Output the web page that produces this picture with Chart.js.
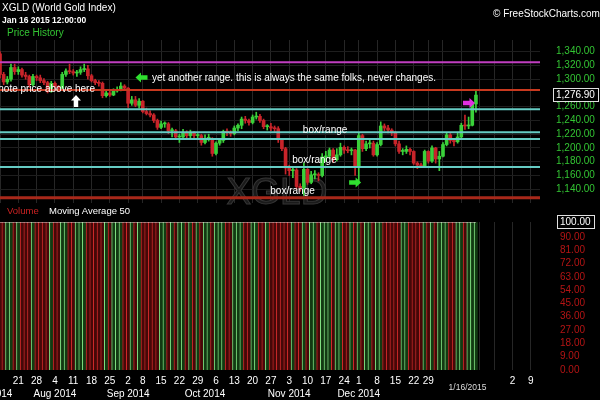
<!DOCTYPE html>
<html>
<head>
<meta charset="utf-8">
<script src="https://cdn.jsdelivr.net/npm/chart.js@4.4.0/dist/chart.umd.min.js"></script>
<style>
  html, body { margin: 0; padding: 0; background: #000; }
  #wrap { position: relative; width: 600px; height: 400px; overflow: hidden; background: #000;
          font-family: "Liberation Sans", Arial, sans-serif; }
  #price { position: absolute; left: 0; top: 0; }
  #volume { position: absolute; left: 0; top: 205px; }
  .lbl { position: absolute; white-space: nowrap; line-height: 1; }
</style>
</head>
<body>
<div id="wrap">
  <canvas id="price" width="600" height="205"></canvas>
  <canvas id="volume" width="600" height="195"></canvas>
  <div class="lbl" style="left:2px;top:3px;color:#fff;font-size:10px;">XGLD (World Gold Index)</div>
  <div class="lbl" style="left:2px;top:16px;color:#fff;font-size:8.5px;font-weight:bold;">Jan 16 2015 12:00:00</div>
  <div class="lbl" style="left:7px;top:28px;color:#33c433;font-size:10px;">Price History</div>
  <div class="lbl" style="left:493px;top:9px;color:#fff;font-size:10px;">&copy; FreeStockCharts.com</div>
  <div class="lbl" style="left:7px;top:206px;color:#cc2222;font-size:9.5px;">Volume</div>
  <div class="lbl" style="left:49px;top:206px;color:#fff;font-size:9.5px;">Moving Average 50</div>
</div>
<script>
// daily bars, Jul 14 2014 .. Jan 16 2015 (index = trading day)
const open = [
  1337,1307,1296,1300,1317,1311,1314,1306,1304,1292,
  1304,1302,1298,1295,1282,1294,1289,1287,1307,1312,
  1311,1309,1310,1314,1315,1305,1298,1295,1294,1276,
  1280,1277,1283,1284,1290,1287,1265,1270,1262,1268,
  1253,1250,1248,1240,1230,1235,1235,1225,1225,1216,
  1216,1222,1218,1222,1218,1218,1208,1214,1214,1192,
  1207,1211,1224,1223,1221,1229,1233,1242,1240,1237,
  1245,1246,1240,1231,1231,1229,1228,1212,1199,1171,
  1167,1168,1144,1142,1169,1150,1161,1161,1160,1187,
  1188,1197,1183,1190,1201,1197,1196,1197,1174,1218,
  1199,1206,1207,1190,1205,1232,1229,1226,1222,1206,
  1195,1195,1198,1195,1178,1175,1174,1195,1181,1200,
  1184,1188,1205,1219,1211,1209,1216,1233,1232,1233,1264
];
const high = [
  1340,1310,1304,1322,1322,1318,1316,1310,1306,1307,
  1306,1306,1301,1297,1297,1296,1291,1310,1315,1322,
  1314,1313,1318,1322,1320,1307,1300,1298,1296,1284,
  1283,1286,1289,1295,1292,1288,1275,1275,1272,1269,
  1258,1254,1250,1242,1239,1238,1237,1229,1227,1220,
  1227,1225,1226,1224,1221,1220,1219,1220,1215,1209,
  1214,1226,1228,1225,1232,1235,1245,1246,1242,1248,
  1252,1249,1242,1234,1236,1232,1231,1214,1201,1175,
  1172,1170,1148,1178,1170,1166,1167,1164,1192,1195,
  1200,1199,1199,1207,1203,1202,1200,1198,1222,1220,
  1210,1212,1210,1208,1238,1235,1233,1228,1224,1210,
  1199,1203,1200,1196,1180,1178,1197,1196,1203,1201,
  1195,1208,1222,1221,1214,1223,1236,1248,1245,1266,1283
];
const low = [
  1302,1292,1293,1297,1307,1307,1303,1300,1288,1290,
  1298,1295,1292,1280,1281,1285,1282,1286,1304,1308,
  1306,1304,1307,1311,1300,1296,1292,1290,1273,1274,
  1275,1276,1281,1283,1284,1259,1262,1260,1258,1251,
  1248,1245,1237,1227,1228,1230,1221,1216,1213,1208,
  1214,1215,1215,1214,1212,1204,1206,1210,1188,1190,
  1204,1208,1218,1217,1219,1225,1228,1236,1233,1235,
  1242,1237,1228,1226,1225,1224,1208,1196,1162,1160,
  1157,1140,1137,1131,1147,1148,1155,1152,1158,1180,
  1185,1179,1181,1188,1192,1193,1190,1160,1150,1195,
  1196,1200,1188,1188,1203,1225,1222,1218,1203,1192,
  1190,1192,1190,1176,1170,1172,1173,1178,1179,1178,
  1167,1187,1203,1207,1203,1207,1215,1227,1228,1232,1252
];
const close = [
  1307,1296,1300,1317,1311,1314,1306,1304,1292,1304,
  1302,1298,1295,1282,1294,1289,1287,1307,1312,1311,
  1309,1310,1314,1315,1305,1298,1295,1294,1276,1280,
  1277,1283,1284,1290,1287,1265,1270,1262,1268,1253,
  1250,1248,1240,1230,1235,1235,1225,1225,1216,1216,
  1222,1218,1222,1218,1218,1208,1214,1214,1192,1207,
  1211,1224,1223,1221,1229,1233,1242,1240,1237,1245,
  1246,1240,1231,1231,1229,1228,1212,1199,1171,1167,
  1168,1144,1142,1169,1150,1161,1161,1160,1187,1188,
  1197,1183,1190,1201,1197,1196,1197,1174,1218,1199,
  1206,1207,1190,1205,1232,1229,1226,1222,1206,1195,
  1195,1198,1195,1178,1175,1174,1195,1181,1200,1184,
  1188,1205,1219,1211,1209,1216,1233,1232,1233,1264,1276.9
];
const volume = [
  100,100,100,100,100,100,100,100,100,100,
  100,100,100,100,100,100,100,100,100,100,
  100,100,100,100,100,100,100,100,100,100,
  100,100,100,100,100,100,100,100,100,100,
  100,100,100,100,100,100,100,100,100,100,
  100,100,100,100,100,100,100,100,100,100,
  100,100,100,100,100,100,100,100,100,100,
  100,100,100,100,100,100,100,100,100,100,
  100,100,100,100,100,100,100,100,100,100,
  100,100,100,100,100,100,100,100,100,100,
  100,100,100,100,100,100,100,100,100,100,
  100,100,100,100,100,100,100,100,100,100,
  100,100,100,100,100,100,100,100,100,100,100
];

// horizontal range lines drawn on the chart
const levels = [1324.6, 1284.3, 1256.3, 1222.8, 1213, 1172.3, 1127.8];

// axis ticks (x = trading day index)
const weekIdx = [0, 5, 10, 15, 20, 25, 30, 35, 39, 44, 49, 54, 59, 64, 69, 74, 79, 84, 89, 94,
                 98, 103, 108, 113, 117, 121, 126, 131, 135, 140, 145];
const weekLabels = ['', '21', '28', '4', '11', '18', '25', '2', '8', '15', '22', '29', '6', '13', '20', '27',
                    '3', '10', '17', '24', '1', '8', '15', '22', '29', '', '', '', '', '2', '9'];
const monthIdx = [-1.8, 15, 35, 56, 79, 98];
const monthLabels = ['Jul 2014', 'Aug 2014', 'Sep 2014', 'Oct 2014', 'Nov 2014', 'Dec 2014'];
const priceTicks = [1140, 1160, 1180, 1200, 1220, 1240, 1260, 1300, 1320, 1340];
const volTicks = [0, 9, 18, 27, 36, 45, 54, 63, 72, 81, 90, 100];

// chart notes: [day index, price, text, align]
const notes = [
  [25.95, 1285.8, 'note price above here', 'right'],
  [41.5, 1301.7, 'yet another range. this is always the same folks, never changes.', 'left'],
  [88.8, 1226.1, 'box/range', 'center'],
  [85.9, 1181.5, 'box/range', 'center'],
  [79.9, 1137.4, 'box/range', 'center']
];
// arrows: [day index, price, direction, colour]
const arrows = [
  [38.65, 1302.5, 'left', '#2fe02f'],
  [20.76, 1268.3, 'up', '#ffffff'],
  [97, 1149.8, 'right', '#2fe02f'],
  [128.1, 1265.4, 'right', '#e02fe0']
];

const lastClose = close[close.length - 1];
const X_MAX = 147.5;
const GREEN = '#3ad13a';
const RED = '#c8242a';

Chart.defaults.font.family = '"Liberation Sans", Arial, sans-serif';
Chart.defaults.font.size = 10;

const levelColors = ['#c03ec0', '#c8391f', '#66ccc4', '#66ccc4', '#66ccc4', '#66ccc4', '#a8281a'];
const levelWidths = [2, 2, 2, 2, 2, 2, 3];

const up = close.map((c, i) => c >= open[i]);
const barColors = up.map(u => u ? GREEN : RED);

function fmtPrice(v) {
    return v.toLocaleString('en-US', { minimumFractionDigits: 2, maximumFractionDigits: 2 });
}
function weekTicks(scale) {
    scale.ticks = weekIdx.map(v => ({ value: v }));
}
function noSidePad(scale) {
    scale.paddingLeft = 0;
    scale.paddingRight = 0;
}
function fixRightAxis(scale) {
    // fixed width so both panels share the same plot area; no label overhang
    scale.width = 60;
    scale.paddingTop = 0;
    scale.paddingBottom = 0;
}

function drawArrow(ctx, x, y, dir, color) {
    const rot = { right: 0, down: Math.PI / 2, left: Math.PI, up: -Math.PI / 2 }[dir];
    ctx.save();
    ctx.translate(x, y);
    ctx.rotate(rot);
    ctx.beginPath();
    ctx.moveTo(-6, -2.2);
    ctx.lineTo(0.5, -2.2);
    ctx.lineTo(0.5, -5);
    ctx.lineTo(6, 0);
    ctx.lineTo(0.5, 5);
    ctx.lineTo(0.5, 2.2);
    ctx.lineTo(-6, 2.2);
    ctx.closePath();
    ctx.fillStyle = color;
    ctx.fill();
    ctx.restore();
}

function boxTick(chart, value, text) {
    const y = chart.scales.y;
    const ctx = chart.ctx;
    const py = Math.round(y.getPixelForValue(value));
    ctx.save();
    ctx.font = '10px "Liberation Sans"';
    const w = ctx.measureText(text).width;
    const x0 = Math.round(chart.chartArea.right + y.options.ticks.padding - 3);
    ctx.strokeStyle = '#e0e0e0';
    ctx.lineWidth = 1;
    ctx.strokeRect(x0 + 0.5, py - 6.5, Math.round(w + 6), 13);
    ctx.restore();
}

const pricePlugin = {
    id: 'priceNotes',
    beforeDatasetsDraw(chart) {
        // XGLD watermark
        const ctx = chart.ctx;
        ctx.save();
        ctx.font = '37px "Liberation Sans"';
        ctx.textAlign = 'center';
        ctx.textBaseline = 'alphabetic';
        ctx.fillStyle = '#1a1a1a';
        ctx.strokeStyle = '#363636';
        ctx.lineWidth = 1;
        ctx.fillText('XGLD', 277, 204);
        ctx.strokeText('XGLD', 277, 204);
        ctx.restore();
    },
    afterDatasetsDraw(chart) {
        const ctx = chart.ctx;
        const xs = chart.scales.x, ys = chart.scales.y;
        ctx.save();
        ctx.font = '10px "Liberation Sans"';
        ctx.fillStyle = '#ffffff';
        ctx.textBaseline = 'middle';
        notes.forEach(n => {
            ctx.textAlign = n[3];
            ctx.fillText(n[2], xs.getPixelForValue(n[0]), ys.getPixelForValue(n[1]));
        });
        ctx.restore();
        arrows.forEach(a => drawArrow(ctx, xs.getPixelForValue(a[0]), ys.getPixelForValue(a[1]), a[2], a[3]));
    },
    afterDraw(chart) {
        boxTick(chart, lastClose, fmtPrice(lastClose));
    }
};

const levelSets = levels.map((v, i) => ({
    type: 'line',
    data: [{ x: 0, y: v }, { x: X_MAX, y: v }],
    borderColor: levelColors[i],
    borderWidth: levelWidths[i],
    pointRadius: 0,
    order: 0
}));

new Chart(document.getElementById('price'), {
    type: 'bar',
    data: {
        datasets: levelSets.concat([
            {
                // high-low wick
                data: high.map((h, i) => ({ x: i, y: [low[i], h] })),
                backgroundColor: barColors,
                barThickness: 1,
                grouped: false,
                order: 2
            },
            {
                // open-close body
                data: open.map((o, i) => ({ x: i, y: [o, close[i]] })),
                backgroundColor: barColors,
                barThickness: 3,
                minBarLength: 1,
                grouped: false,
                order: 1
            }
        ])
    },
    options: {
        responsive: false,
        animation: false,
        layout: { padding: { top: 40, bottom: 2 } },
        plugins: { legend: { display: false }, tooltip: { enabled: false } },
        scales: {
            x: {
                type: 'linear', min: 0, max: X_MAX, offset: false,
                afterBuildTicks: weekTicks,
                afterFit: s => { noSidePad(s); s.height = 0; },
                ticks: { display: false },
                grid: { color: '#262626', drawTicks: false, offset: false },
                border: { display: false }
            },
            y: {
                position: 'right', min: 1120, max: 1357,
                afterBuildTicks: s => { s.ticks = priceTicks.concat([lastClose]).map(v => ({ value: v })); },
                afterFit: fixRightAxis,
                ticks: {
                    autoSkip: false, padding: 16,
                    color: c => c.tick && c.tick.value === lastClose ? '#ffffff' : '#33c433',
                    callback: v => fmtPrice(v)
                },
                grid: {
                    color: c => c.tick && c.tick.value === lastClose ? 'rgba(0,0,0,0)' : '#1e1e1e',
                    drawTicks: false
                },
                border: { display: false }
            }
        }
    },
    plugins: [pricePlugin]
});

/*-------------------- volume panel --------------------*/
const volFill = up.map(u => u ? '#123a12' : '#450808');
const volEdge = up.map(u => u ? '#80e080' : '#d22a2a');

// 50 day moving average of volume (shorter window at the start)
const volMA = volume.map((v, i) => {
    const part = volume.slice(Math.max(0, i - 49), i + 1);
    return { x: i, y: part.reduce((a, b) => a + b, 0) / part.length };
});

const volPlugin = {
    id: 'volNotes',
    afterDraw(chart) {
        boxTick(chart, 100, '100.00');
        const ctx = chart.ctx;
        ctx.save();
        ctx.font = '8.5px "Liberation Sans"';
        ctx.fillStyle = '#dddddd';
        ctx.textAlign = 'center';
        ctx.textBaseline = 'middle';
        ctx.fillText('1/16/2015', chart.scales.x.getPixelForValue(127.7), 183);
        ctx.restore();
    }
};

new Chart(document.getElementById('volume'), {
    type: 'bar',
    data: {
        datasets: [
            {
                type: 'line',
                data: volMA,
                borderColor: '#e8dada',
                borderWidth: 1,
                pointRadius: 0,
                order: 0
            },
            {
                data: volume.map((v, i) => ({ x: i, y: v })),
                backgroundColor: volFill,
                borderColor: volEdge,
                borderWidth: { left: 1, right: 0, top: 0, bottom: 0 },
                borderSkipped: false,
                barPercentage: 1,
                categoryPercentage: 1,
                order: 1
            }
        ]
    },
    options: {
        responsive: false,
        animation: false,
        layout: { padding: { top: 17 } },
        plugins: { legend: { display: false }, tooltip: { enabled: false } },
        scales: {
            x: {
                type: 'linear', min: 0, max: X_MAX, weight: 0, offset: false,
                afterBuildTicks: weekTicks,
                afterFit: s => { noSidePad(s); s.height = 17; },
                ticks: { autoSkip: false, maxRotation: 0, padding: 5, color: '#ffffff', callback: (v, i) => weekLabels[i] },
                grid: { color: '#262626', drawTicks: false, offset: false },
                border: { display: false }
            },
            x2: {
                type: 'linear', position: 'bottom', min: 0, max: X_MAX, weight: 1, offset: false,
                afterBuildTicks: s => { s.ticks = monthIdx.map(v => ({ value: v })); },
                afterFit: s => { noSidePad(s); s.height = 13; },
                ticks: { autoSkip: false, maxRotation: 0, padding: 1, color: '#ffffff', callback: (v, i) => monthLabels[i] },
                grid: { display: false, drawTicks: false, offset: false },
                border: { display: false }
            },
            y: {
                position: 'right', min: 0, max: 100,
                afterBuildTicks: s => { s.ticks = volTicks.map(v => ({ value: v })); },
                afterFit: fixRightAxis,
                ticks: {
                    autoSkip: false, padding: 20,
                    color: c => c.tick && c.tick.value === 100 ? '#ffffff' : '#b51414',
                    callback: v => v.toFixed(2)
                },
                grid: { display: false, drawTicks: false },
                border: { display: false }
            }
        }
    },
    plugins: [volPlugin]
});
</script>
</body>
</html>
